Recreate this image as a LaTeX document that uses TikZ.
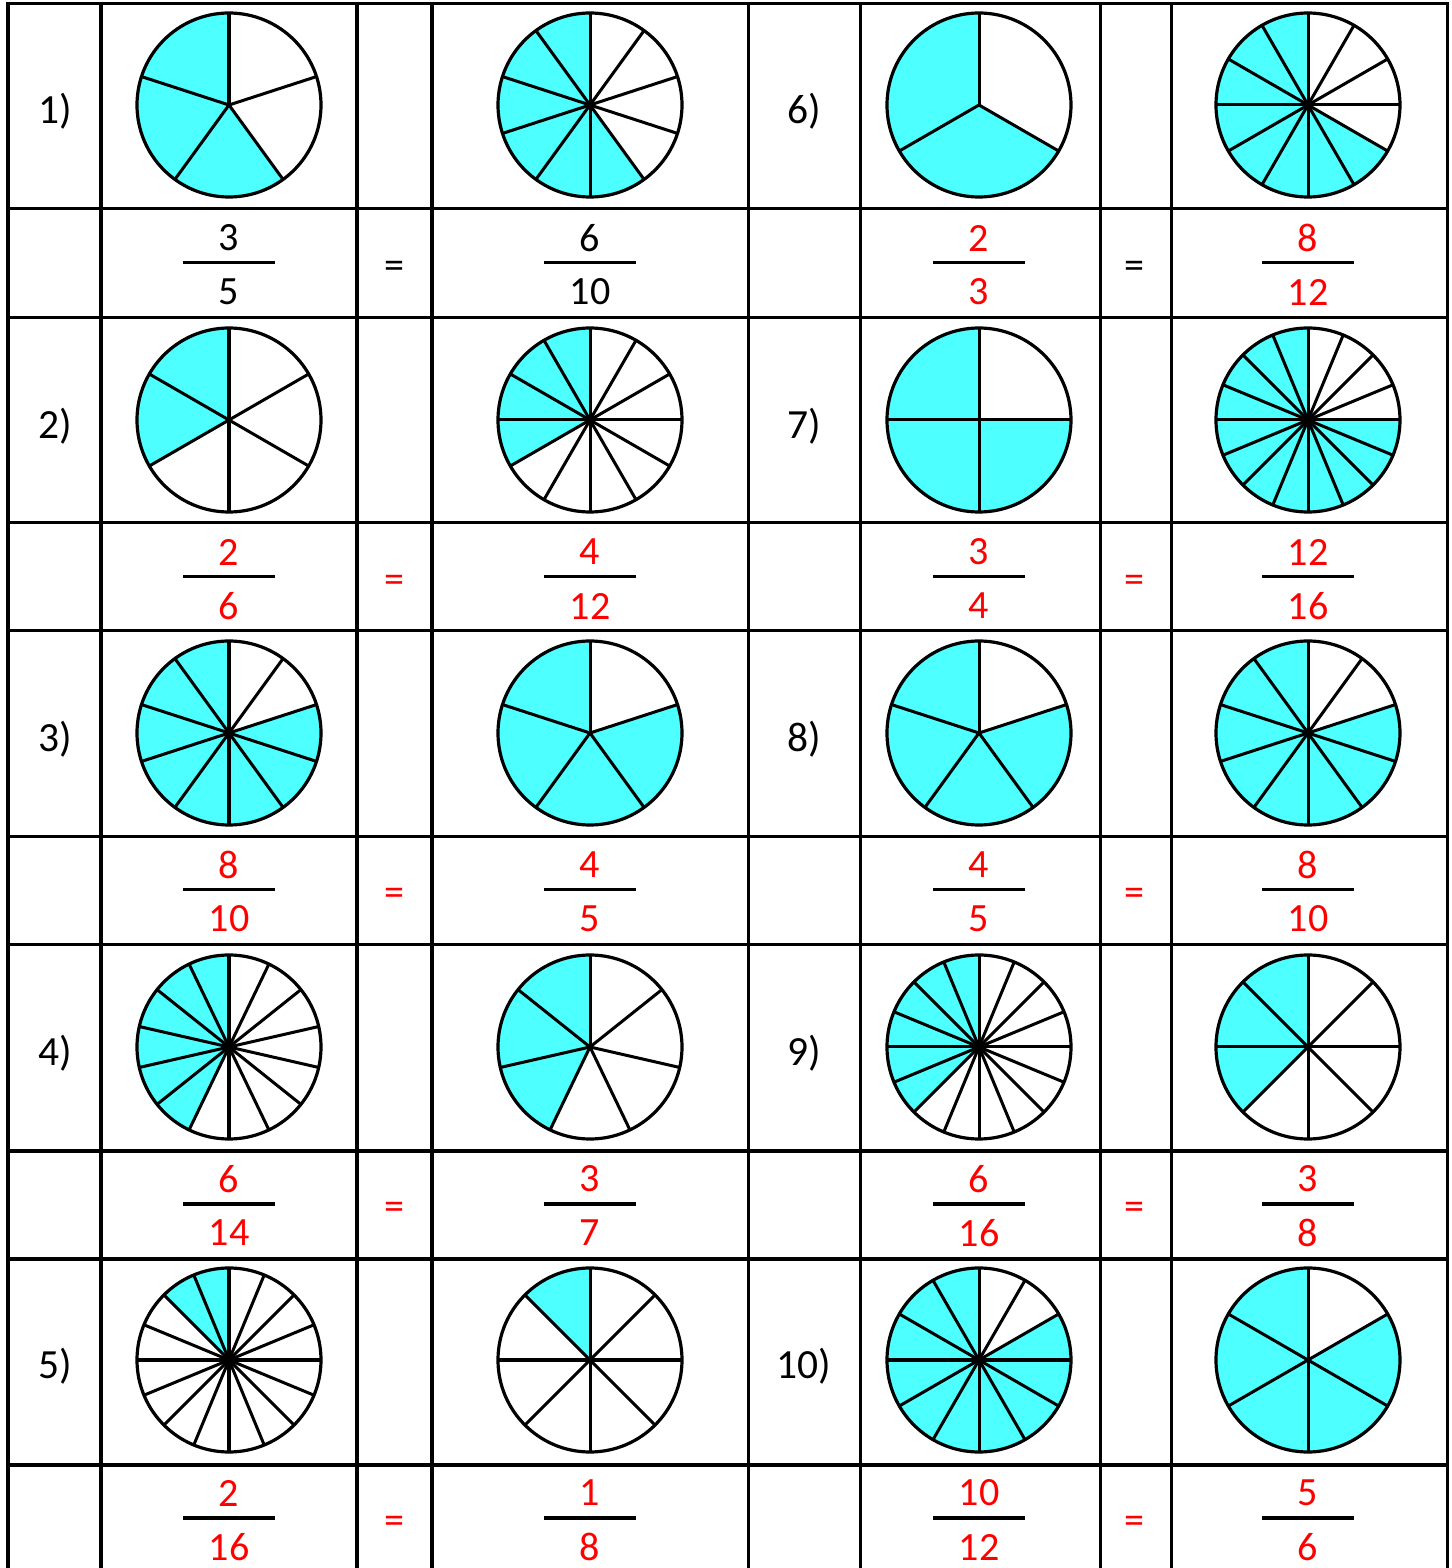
\documentclass[tikz,border=0pt]{standalone}
\usepackage{fontspec}
\setmainfont{Carlito}
\definecolor{piecyan}{RGB}{77,255,255}
\definecolor{ansred}{RGB}{255,0,0}

% one pie: name, centre x, centre y, parts, shaded parts
\newcommand{\piechart}[5]{%
  \coordinate (#1) at (#2,#3);
  \fill[wedge] (#1) -- ++(90:92) arc[start angle=90, end angle={90+360*#5/#4}, radius=92] -- cycle;
  \foreach \k in {1,...,#4} {\draw[spoke] (#1) -- ++({90+360*\k/#4}:92);}
  \draw[rim] (#1) circle[radius=92];}
% one fraction: name, bar centre x, bar y, numerator, denominator, style
\newcommand{\fracnum}[6]{%
  \coordinate (#1) at (#2,#3);
  \node[#6] (#1n) at (#2,#3+25) {#4};
  \node[#6] (#1d) at (#2,#3-29) {#5};
  \draw[bar] (#2-46,#3) -- (#2+46,#3);}

\begin{document}
\begin{tikzpicture}[
  x=0.01cm, y=0.01cm,
  every node/.style={inner sep=0pt, font=\fontsize{11.4}{13.6}\selectfont},
  cellline/.style={draw, line width=0.3mm, line cap=rect},
  wedge/.style={fill=piecyan},
  spoke/.style={draw, line width=0.3mm},
  rim/.style={draw, line width=0.32mm},
  bar/.style={draw, line width=0.3mm},
  tag/.style={font=\fontsize{11.8}{14}\selectfont},
  given/.style={text=black},
  ans/.style={text=ansred}]

  \useasboundingbox (0,0) rectangle (1452,1568);

  % table
  \foreach \y in {1564,1359,1250,1045,937,731,623,417,309,103}
    \draw[cellline] (8,\y) -- (1447,\y);
  \foreach \x in {8,101,357,432,748,860,1100,1171,1447}
    \draw[cellline] (\x,1564) -- (\x,0);

  % question numbers
  \node[tag] (q1)  at (55,1457) {1)};
  \node[tag] (q2)  at (55,1142) {2)};
  \node[tag] (q3)  at (55,829)  {3)};
  \node[tag] (q4)  at (55,515)  {4)};
  \node[tag] (q5)  at (55,202)  {5)};
  \node[tag] (q6)  at (804,1457) {6)};
  \node[tag] (q7)  at (804,1142) {7)};
  \node[tag] (q8)  at (804,829)  {8)};
  \node[tag] (q9)  at (804,515)  {9)};
  \node[tag] (q10) at (804,202)  {10)};

  % pies
  \piechart{p1a}{229}{1463}{5}{3}   \piechart{p1b}{590}{1463}{10}{6}
  \piechart{p6a}{979}{1463}{3}{2}   \piechart{p6b}{1308}{1463}{12}{8}
  \piechart{p2a}{229}{1148}{6}{2}   \piechart{p2b}{590}{1148}{12}{4}
  \piechart{p7a}{979}{1148}{4}{3}   \piechart{p7b}{1308}{1148}{16}{12}
  \piechart{p3a}{229}{835}{10}{8}   \piechart{p3b}{590}{835}{5}{4}
  \piechart{p8a}{979}{835}{5}{4}    \piechart{p8b}{1308}{835}{10}{8}
  \piechart{p4a}{229}{521}{14}{6}   \piechart{p4b}{590}{521}{7}{3}
  \piechart{p9a}{979}{521}{16}{6}   \piechart{p9b}{1308}{521}{8}{3}
  \piechart{p5a}{229}{208}{16}{2}   \piechart{p5b}{590}{208}{8}{1}
  \piechart{p10a}{979}{208}{12}{10} \piechart{p10b}{1308}{208}{6}{5}

  % fractions
  \fracnum{f1a}{229}{1305}{3}{5}{given}    \fracnum{f1b}{590}{1305}{6}{10}{given}
  \fracnum{f6a}{979}{1305}{2}{3}{ans}      \fracnum{f6b}{1308}{1305}{8}{12}{ans}
  \fracnum{f2a}{229}{991}{2}{6}{ans}       \fracnum{f2b}{590}{991}{4}{12}{ans}
  \fracnum{f7a}{979}{991}{3}{4}{ans}       \fracnum{f7b}{1308}{991}{12}{16}{ans}
  \fracnum{f3a}{229}{678}{8}{10}{ans}      \fracnum{f3b}{590}{678}{4}{5}{ans}
  \fracnum{f8a}{979}{678}{4}{5}{ans}       \fracnum{f8b}{1308}{678}{8}{10}{ans}
  \fracnum{f4a}{229}{364}{6}{14}{ans}      \fracnum{f4b}{590}{364}{3}{7}{ans}
  \fracnum{f9a}{979}{364}{6}{16}{ans}      \fracnum{f9b}{1308}{364}{3}{8}{ans}
  \fracnum{f5a}{229}{50}{2}{16}{ans}       \fracnum{f5b}{590}{50}{1}{8}{ans}
  \fracnum{f10a}{979}{50}{10}{12}{ans}     \fracnum{f10b}{1308}{50}{5}{6}{ans}

  % equals signs
  \node[given] (e1)  at (394,1298)  {=};
  \node[given] (e6)  at (1134,1298) {=};
  \node[ans]   (e2)  at (394,984)   {=};
  \node[ans]   (e7)  at (1134,984)  {=};
  \node[ans]   (e3)  at (394,671)   {=};
  \node[ans]   (e8)  at (1134,671)  {=};
  \node[ans]   (e4)  at (394,357)   {=};
  \node[ans]   (e9)  at (1134,357)  {=};
  \node[ans]   (e5)  at (394,43)    {=};
  \node[ans]   (e10) at (1134,43)   {=};
\end{tikzpicture}
\end{document}
